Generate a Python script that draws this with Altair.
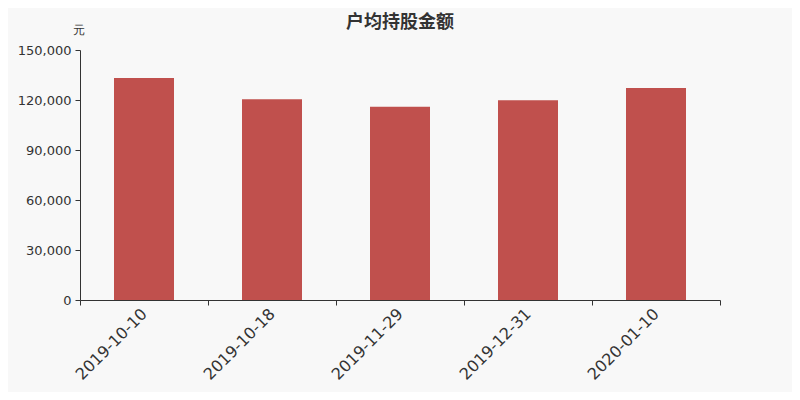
import altair as alt
import pandas as pd

dates = ["2019-10-10", "2019-10-18", "2019-11-29", "2019-12-31", "2020-01-10"]
values = [133200, 120400, 116000, 119800, 127200]

df = pd.DataFrame({"date": dates, "value": values})

FONT = "DejaVu Sans"

bars = alt.Chart(df).mark_bar(size=60, color="#c0504d").encode(
    x=alt.X("date:N", sort=None, title=None,
            scale=alt.Scale(paddingInner=0, paddingOuter=0),
            axis=alt.Axis(labelAngle=-45, labelFontSize=16, labelColor="#333333",
                          labelFont=FONT, tickBand="extent", domainColor="#333333",
                          tickColor="#333333", tickSize=5, labelPadding=6,
                          labelAlign="right", labelBaseline="middle")),
    y=alt.Y("value:Q", scale=alt.Scale(domain=[0, 150000]),
            axis=alt.Axis(values=[0, 30000, 60000, 90000, 120000, 150000], format=",.0f",
                          labelFontSize=13, labelColor="#333333", labelFont=FONT,
                          domainColor="#333333", tickColor="#333333", tickSize=5,
                          labelPadding=4, grid=False,
                          title="元", titleAngle=0, titleX=-2, titleY=-21,
                          titleAlign="center", titleBaseline="middle",
                          titleFontSize=12, titleFontWeight="normal",
                          titleColor="#333333", titleFont=FONT)),
)

chart = bars.properties(
    width=640, height=250,
    title=alt.TitleParams("户均持股金额", fontSize=18, fontWeight="bold", color="#333333",
                          font="Noto Sans CJK SC", anchor="middle", offset=2, dy=11),
    padding={"left": 72, "top": 42, "right": 72, "bottom": 92},
    autosize=alt.AutoSizeParams(type="none"),
    background="#f8f8f8",
).configure_view(stroke=None)

chart.save("out.html", embed_options={"renderer": "svg", "actions": False})
